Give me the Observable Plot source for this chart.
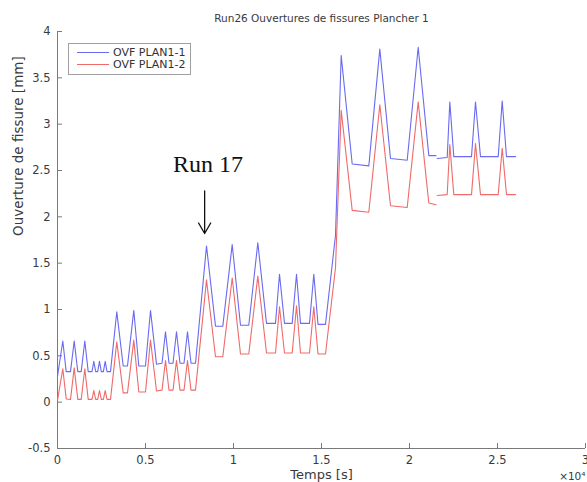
<!DOCTYPE html>
<html><head><meta charset="utf-8">
<script src="https://cdn.jsdelivr.net/npm/d3@7"></script>
<script src="https://cdn.jsdelivr.net/npm/@observablehq/plot@0.6"></script>
<style>
body{margin:0;background:#fff;}
#chart{position:relative;width:587px;height:482px;font-family:"DejaVu Sans",sans-serif;}
#legend{position:absolute;left:68px;top:43px;width:121px;height:30px;border:1px solid #a0a0a0;background:#fff;font-size:11px;color:#333;}
#legend .row{position:absolute;left:0;height:13px;display:flex;align-items:center;white-space:nowrap;}
#legend .ln{display:inline-block;width:32px;height:1px;margin-left:8px;margin-right:4px;}
</style></head><body>
<div id="chart"><div id="legend">
<div class="row" style="top:2px"><span class="ln" style="background:#6a6af2"></span><span>OVF PLAN1-1</span></div>
<div class="row" style="top:14px"><span class="ln" style="background:#f06a6a"></span><span>OVF PLAN1-2</span></div>
</div></div>
<script>
// Time (s)
const time = [0, 301, 494, 739, 949, 1153, 1347, 1551, 1744, 1960, 2063, 2170, 2284, 2386, 2489, 2608, 2710, 2813, 3011, 3369, 3733, 3977, 4335, 4619, 5000, 5284, 5625, 5938, 6136, 6335, 6563, 6761, 6960, 7188, 7386, 7585, 7841, 8466, 8977, 9392, 9926, 10398, 10869, 11381, 11875, 12386, 12614, 12898, 13335, 13580, 13807, 14318, 14563, 14801, 15227, 15795, 16119, 16744, 17688, 18313, 18920, 19869, 20494, 21097, 21506, 21540, 21574, 22142, 22290, 22517, 23523, 23750, 24034, 25040, 25267, 25511, 26023];
// OVF PLAN1-1 (mm); NaN = break between records
const plan1_1 = [0.28, 0.66, 0.33, 0.33, 0.66, 0.33, 0.33, 0.66, 0.33, 0.33, 0.44, 0.33, 0.33, 0.44, 0.33, 0.33, 0.44, 0.33, 0.33, 0.975, 0.39, 0.39, 0.99, 0.39, 0.39, 0.99, 0.41, 0.42, 0.76, 0.42, 0.42, 0.76, 0.42, 0.42, 0.76, 0.42, 0.42, 1.686, 0.82, 0.82, 1.70, 0.83, 0.83, 1.72, 0.85, 0.85, 1.38, 0.85, 0.85, 1.38, 0.85, 0.85, 1.38, 0.84, 0.84, 1.80, 3.74, 2.57, 2.55, 3.81, 2.63, 2.61, 3.83, 2.66, 2.66, NaN, 2.63, 2.64, 3.24, 2.65, 2.65, 3.24, 2.65, 2.65, 3.25, 2.65, 2.65];
// OVF PLAN1-2 (mm)
const plan1_2 = [0.02, 0.36, 0.035, 0.03, 0.37, 0.03, 0.03, 0.36, 0.03, 0.03, 0.125, 0.03, 0.03, 0.125, 0.03, 0.03, 0.125, 0.03, 0.03, 0.65, 0.10, 0.10, 0.67, 0.11, 0.11, 0.67, 0.12, 0.13, 0.45, 0.13, 0.13, 0.45, 0.13, 0.13, 0.45, 0.13, 0.13, 1.32, 0.49, 0.49, 1.34, 0.52, 0.52, 1.36, 0.53, 0.53, 1.03, 0.53, 0.53, 1.04, 0.53, 0.53, 1.03, 0.52, 0.52, 1.45, 3.15, 2.07, 2.05, 3.21, 2.12, 2.10, 3.24, 2.15, 2.13, NaN, 2.23, 2.24, 2.78, 2.24, 2.24, 2.79, 2.24, 2.24, 2.74, 2.24, 2.24];
const xTicks = [0, 5000, 10000, 15000, 20000, 25000, 30000];
const yTicks = [-0.5, 0, 0.5, 1, 1.5, 2, 2.5, 3, 3.5, 4];
const seriesNames = ["OVF PLAN1-1", "OVF PLAN1-2"];
const annotation = {label: "Run 17", tText: 8550, yText: 2.57, tArrow: 8360, yArrowFrom: 2.28, yArrowTo: 1.82};

const W = 587, H = 482, mL = 57, mR = 2, mT = 31, mB = 34;
const innerW = W - mL - mR, innerH = H - mT - mB;
const data1 = time.map((t, i) => ({t, v: plan1_1[i]}));
const data2 = time.map((t, i) => ({t, v: plan1_2[i]}));
const axisColor = "#7a7a7a", textColor = "#3a3a3a";

const plot = Plot.plot({
  width: W, height: H,
  marginLeft: mL, marginRight: mR, marginTop: mT, marginBottom: mB,
  style: {fontFamily: "DejaVu Sans, sans-serif", fontSize: "11.5px", color: textColor, background: "white"},
  x: {domain: [0, 30000]},
  y: {domain: [-0.5, 4]},
  marks: [
    Plot.axisX(xTicks, {tickSize: 0, tickPadding: 7, tickFormat: d => String(d / 1e4), label: null, fill: textColor, fontSize: 11.5}),
    Plot.axisY(yTicks, {tickSize: 0, tickPadding: 7, tickFormat: d => String(d), label: null, fill: textColor, fontSize: 11.5}),
    Plot.tickX(xTicks, {x: d => d, insetTop: innerH - 5, stroke: axisColor}),
    Plot.tickY(yTicks, {y: d => d, insetRight: innerW - 5, stroke: axisColor}),
    Plot.ruleY([-0.5], {stroke: axisColor}),
    Plot.ruleX([0], {stroke: axisColor}),
    Plot.line(data1, {x: "t", y: "v", stroke: "#6a6af2", strokeWidth: 1.1}),
    Plot.line(data2, {x: "t", y: "v", stroke: "#f06a6a", strokeWidth: 1.1}),
    Plot.text([annotation], {x: "tText", y: "yText", text: "label", fontFamily: "Liberation Serif, serif", fontSize: 24, fill: "#111"}),
    Plot.arrow([annotation], {x1: "tArrow", x2: "tArrow", y1: "yArrowFrom", y2: "yArrowTo", stroke: "#111", strokeWidth: 1.3, headLength: 14}),
    Plot.text(["Run26 Ouvertures de fissures Plancher 1"], {frameAnchor: "top", lineAnchor: "middle", dy: -13, fontSize: 10.5, fill: textColor}),
    Plot.text(["Temps [s]"], {frameAnchor: "bottom", lineAnchor: "middle", dy: 26, fontSize: 13, fill: textColor}),
    Plot.text(["Ouverture de fissure [mm]"], {frameAnchor: "left", lineAnchor: "middle", dx: -39, dy: -4, rotate: -90, fontSize: 13.5, fill: textColor}),
    Plot.text(["×10⁴"], {frameAnchor: "bottom-right", lineAnchor: "middle", dy: 28, dx: 0, textAnchor: "end", fontSize: 10.5, fill: textColor})
  ]
});
document.getElementById("chart").prepend(plot);
</script>
</body></html>
